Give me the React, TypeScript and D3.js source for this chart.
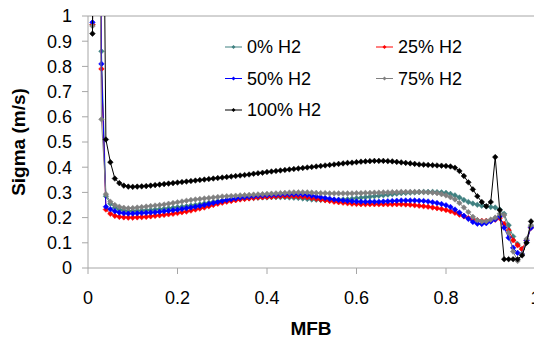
import React from "react";
import * as d3 from "d3";

const xValues: number[] = [
  0.01, 0.02, 0.03, 0.04, 0.05, 0.06, 0.07, 0.08, 0.09, 0.1,
  0.11, 0.12, 0.13, 0.14, 0.15, 0.16, 0.17, 0.18, 0.19, 0.2,
  0.21, 0.22, 0.23, 0.24, 0.25, 0.26, 0.27, 0.28, 0.29, 0.3,
  0.31, 0.32, 0.33, 0.34, 0.35, 0.36, 0.37, 0.38, 0.39, 0.4,
  0.41, 0.42, 0.43, 0.44, 0.45, 0.46, 0.47, 0.48, 0.49, 0.5,
  0.51, 0.52, 0.53, 0.54, 0.55, 0.56, 0.57, 0.58, 0.59, 0.6,
  0.61, 0.62, 0.63, 0.64, 0.65, 0.66, 0.67, 0.68, 0.69, 0.7,
  0.71, 0.72, 0.73, 0.74, 0.75, 0.76, 0.77, 0.78, 0.79, 0.8,
  0.81, 0.82, 0.83, 0.84, 0.85, 0.86, 0.87, 0.88, 0.89, 0.9,
  0.91, 0.92, 0.93, 0.94, 0.95, 0.96, 0.97, 0.98, 0.99,
];

const h2_0: number[] = [
  0.965, 2.5, 0.86, 0.285, 0.255, 0.24, 0.232, 0.228, 0.226, 0.226,
  0.227, 0.228, 0.229, 0.23, 0.232, 0.233, 0.235, 0.237, 0.239, 0.241,
  0.243, 0.245, 0.248, 0.25, 0.253, 0.256, 0.259, 0.262, 0.265, 0.267,
  0.269, 0.271, 0.273, 0.275, 0.276, 0.277, 0.278, 0.279, 0.28, 0.28,
  0.281, 0.281, 0.281, 0.281, 0.28, 0.279, 0.278, 0.276, 0.274, 0.272,
  0.271, 0.27, 0.27, 0.27, 0.27, 0.271, 0.272, 0.273, 0.275, 0.277,
  0.279, 0.281, 0.283, 0.285, 0.287, 0.289, 0.291, 0.293, 0.295, 0.297,
  0.298, 0.299, 0.3, 0.301, 0.302, 0.302, 0.302, 0.301, 0.3, 0.298,
  0.294, 0.288, 0.28, 0.27, 0.262, 0.256, 0.251, 0.247, 0.244, 0.242,
  0.24, 0.232, 0.215, 0.17, 0.125, 0.095, 0.075, 0.1, 0.165,
];

const h2_25: number[] = [
  0.965, 2.5, 0.79, 0.232, 0.215, 0.207, 0.203, 0.201, 0.2, 0.2,
  0.201, 0.202, 0.203, 0.205, 0.207, 0.209, 0.211, 0.213, 0.215, 0.218,
  0.221, 0.224, 0.228, 0.232, 0.236, 0.24, 0.245, 0.25, 0.255, 0.259,
  0.263, 0.266, 0.269, 0.272, 0.274, 0.276, 0.278, 0.28, 0.281, 0.282,
  0.283, 0.284, 0.285, 0.285, 0.285, 0.285, 0.284, 0.283, 0.281, 0.278,
  0.275, 0.272, 0.269, 0.266, 0.263, 0.261, 0.259, 0.257, 0.255, 0.254,
  0.253, 0.253, 0.253, 0.253, 0.253, 0.253, 0.253, 0.253, 0.253, 0.253,
  0.252, 0.251, 0.249, 0.247, 0.245, 0.243, 0.24, 0.237, 0.234, 0.23,
  0.225, 0.219, 0.212, 0.205, 0.198, 0.192, 0.189, 0.187, 0.187, 0.188,
  0.192, 0.198, 0.175, 0.15, 0.11, 0.09, 0.075, 0.11, 0.16,
];

const h2_50: number[] = [
  0.975, 2.5, 0.81, 0.243, 0.233, 0.225, 0.22, 0.217, 0.216, 0.216,
  0.217, 0.218, 0.219, 0.22, 0.221, 0.223, 0.225, 0.227, 0.229, 0.231,
  0.234, 0.237, 0.24, 0.243, 0.246, 0.25, 0.254, 0.258, 0.262, 0.266,
  0.27, 0.273, 0.276, 0.279, 0.281, 0.283, 0.285, 0.287, 0.288, 0.289,
  0.29, 0.291, 0.292, 0.293, 0.293, 0.293, 0.293, 0.292, 0.29, 0.287,
  0.284, 0.281, 0.278, 0.275, 0.272, 0.27, 0.268, 0.266, 0.265, 0.264,
  0.263, 0.263, 0.263, 0.263, 0.263, 0.264, 0.265, 0.266, 0.267, 0.268,
  0.268, 0.268, 0.268, 0.267, 0.266, 0.264, 0.261, 0.258, 0.254, 0.249,
  0.242, 0.232, 0.22, 0.207, 0.195, 0.183, 0.176, 0.175, 0.178, 0.185,
  0.193, 0.205, 0.16, 0.12, 0.08, 0.06, 0.055, 0.11, 0.16,
];

const h2_75: number[] = [
  0.96, 2.5, 0.59, 0.293, 0.263, 0.25, 0.243, 0.239, 0.237, 0.238,
  0.24, 0.242, 0.244, 0.246, 0.248, 0.25, 0.252, 0.255, 0.258, 0.261,
  0.264, 0.267, 0.27, 0.272, 0.274, 0.276, 0.278, 0.28, 0.282, 0.284,
  0.285, 0.286, 0.287, 0.288, 0.289, 0.29, 0.291, 0.292, 0.293, 0.294,
  0.295, 0.296, 0.297, 0.298, 0.299, 0.3, 0.3, 0.3, 0.3, 0.299,
  0.298, 0.297, 0.297, 0.296, 0.296, 0.296, 0.296, 0.296, 0.296, 0.297,
  0.297, 0.298, 0.298, 0.299, 0.299, 0.3, 0.3, 0.301, 0.301, 0.302,
  0.302, 0.302, 0.302, 0.302, 0.301, 0.3, 0.299, 0.297, 0.293, 0.288,
  0.281, 0.272, 0.258, 0.24, 0.222, 0.203, 0.19, 0.185, 0.186, 0.192,
  0.2, 0.215, 0.21, 0.14, 0.065, 0.028, 0.055, 0.115, 0.17,
];

const h2_100: number[] = [
  0.93, 3.5, 2.5, 0.51, 0.42, 0.355, 0.337, 0.327, 0.323, 0.322,
  0.323, 0.324, 0.325, 0.327, 0.329, 0.331, 0.333, 0.335, 0.337, 0.339,
  0.341, 0.343, 0.345, 0.347, 0.349, 0.351, 0.353, 0.355, 0.357, 0.359,
  0.361, 0.363, 0.365, 0.367, 0.369, 0.371, 0.374, 0.376, 0.378, 0.381,
  0.383, 0.385, 0.387, 0.389, 0.391, 0.393, 0.395, 0.397, 0.399, 0.401,
  0.403, 0.405, 0.407, 0.409, 0.411, 0.413, 0.415, 0.417, 0.418, 0.42,
  0.422, 0.423, 0.424, 0.425, 0.425, 0.425, 0.424, 0.423, 0.421, 0.419,
  0.417, 0.415, 0.413, 0.411, 0.41, 0.409, 0.408, 0.407, 0.406, 0.405,
  0.403, 0.398, 0.385, 0.365, 0.34, 0.312, 0.285, 0.262, 0.245, 0.262,
  0.44, 0.23, 0.035, 0.035, 0.035, 0.035, 0.05, 0.1, 0.185,
];

const seriesNames: string[] = ["0% H2", "25% H2", "50% H2", "75% H2", "100% H2"];
const seriesColors: string[] = ["#3f8080", "#ff0000", "#0000ff", "#808080", "#000000"];
const seriesValues: number[][] = [h2_0, h2_25, h2_50, h2_75, h2_100];

const xTicks: number[] = [0, 0.2, 0.4, 0.6, 0.8, 1];
const yTicks: number[] = [0, 0.1, 0.2, 0.3, 0.4, 0.5, 0.6, 0.7, 0.8, 0.9, 1];

const W = 534;
const H = 339;
const FONT = "'Liberation Sans', Arial, sans-serif";

const diamond = (r: number) => `M0,${-r}L${r},0L0,${r}L${-r},0Z`;

export default function App() {
  const x = d3.scaleLinear().domain([0, 1]).range([88, 535.5]);
  const y = d3.scaleLinear().domain([0, 1]).range([268, 16]);
  const line = d3
    .line<[number, number]>()
    .x((d) => x(d[0]))
    .y((d) => y(d[1]));

  const legendPos = [
    [225, 47],
    [376, 47],
    [225, 78.5],
    [376, 78.5],
    [225, 110],
  ];

  return (
    <svg
      width={W}
      height={H}
      style={{ position: "absolute", left: 0, top: 0, background: "#fff" }}
      fontFamily={FONT}
    >
      <defs>
        <clipPath id="plotClip">
          <rect x={80} y={16} width={W - 80} height={262} />
        </clipPath>
      </defs>
      <rect x={0} y={0} width={W} height={H} fill="#fff" />

      <line x1={x(0)} x2={W} y1={y(1)} y2={y(1)} stroke="#a6a6a6" strokeWidth={1} />
      <line x1={x(0)} x2={x(0)} y1={y(1)} y2={y(0)} stroke="#a6a6a6" strokeWidth={1} />
      {yTicks.map((t) => (
        <g key={"yt" + t}>
          <line x1={x(0) - 6} x2={x(0)} y1={y(t)} y2={y(t)} stroke="#a6a6a6" />
          <text x={72} y={y(t)} dy="0.35em" textAnchor="end" fontSize={18} fill="#000">
            {d3.format("")(t)}
          </text>
        </g>
      ))}
      <line x1={x(0)} x2={W} y1={y(0)} y2={y(0)} stroke="#a6a6a6" strokeWidth={1} />
      {xTicks.map((t) => (
        <g key={"xt" + t}>
          <line x1={x(t)} x2={x(t)} y1={y(0)} y2={y(0) + 6} stroke="#a6a6a6" />
          <text x={x(t)} y={304} textAnchor="middle" fontSize={18} fill="#000">
            {d3.format("")(t)}
          </text>
        </g>
      ))}

      <text x={311} y={335} textAnchor="middle" fontSize={19} fontWeight="bold">
        MFB
      </text>
      <text
        transform={`translate(25,${(y(0) + y(1)) / 2}) rotate(-90)`}
        textAnchor="middle"
        fontSize={19}
        fontWeight="bold"
      >
        Sigma (m/s)
      </text>

      <g clipPath="url(#plotClip)">
        {seriesValues.map((vals, si) => {
          const pts: [number, number][] = vals.map((v, i) => [xValues[i], v]);
          return (
            <g key={"s" + si}>
              <path d={line(pts) || ""} fill="none" stroke={seriesColors[si]} strokeWidth={1} />
              {pts.map((p, i) => (
                <path
                  key={i}
                  d={diamond(2.8)}
                  transform={`translate(${x(p[0])},${y(p[1])})`}
                  fill={seriesColors[si]}
                  stroke={seriesColors[si]}
                  strokeWidth={0.5}
                />
              ))}
            </g>
          );
        })}
      </g>

      {seriesNames.map((name, si) => {
        const [lx, ly] = legendPos[si];
        return (
          <g key={"lg" + si}>
            <line x1={lx} x2={lx + 17} y1={ly} y2={ly} stroke={seriesColors[si]} strokeWidth={1} />
            <path d={diamond(2)} transform={`translate(${lx + 8.5},${ly})`} fill={seriesColors[si]} />
            <text x={lx + 22} y={ly} dy="0.35em" fontSize={18} fill="#000">
              {name}
            </text>
          </g>
        );
      })}
    </svg>
  );
}
